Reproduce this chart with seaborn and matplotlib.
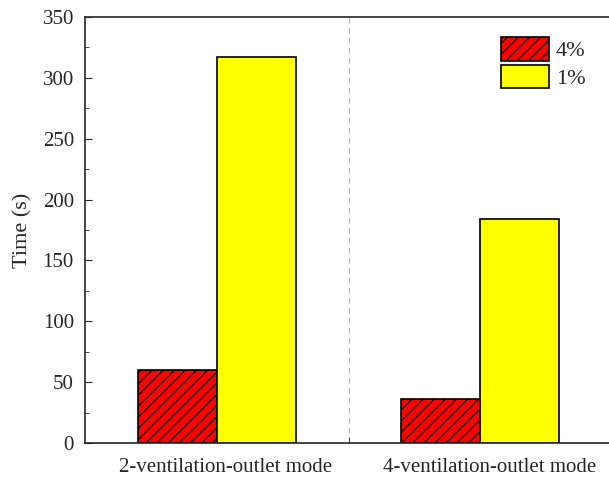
import matplotlib
matplotlib.use("Agg")
import matplotlib.pyplot as plt
import matplotlib.transforms as mtransforms
import seaborn as sns
import pandas as pd
from matplotlib.ticker import MultipleLocator, FixedLocator
from matplotlib.patches import Patch

modes = ["2-ventilation-outlet mode", "4-ventilation-outlet mode"]
series = ["4%", "1%"]
vals_4 = [60, 36]
vals_1 = [317, 184]

df = pd.DataFrame({
    "mode": modes * 2,
    "conc": [series[0]] * 2 + [series[1]] * 2,
    "time": vals_4 + vals_1,
})

sns.set_style("ticks")
plt.rcParams["font.family"] = ["Liberation Serif", "DejaVu Serif"]
plt.rcParams["hatch.linewidth"] = 0.9

fig = plt.figure(figsize=(6.09, 4.78), dpi=100)
ax = fig.add_axes([85 / 609, 35 / 478, (612 - 85) / 609, (443 - 17) / 478])

colors = {"4%": "#ff0000", "1%": "#ffff00"}
sns.barplot(data=df, x="mode", y="time", hue="conc", hue_order=series,
            palette=colors, width=0.6, ax=ax, edgecolor="black",
            linewidth=1.2, legend=False, saturation=1)

for i, p in enumerate(ax.patches):
    if i < 2:
        p.set_hatch("///")

ax.set_xlim(-0.5, 1.5)
ax.set_ylim(0, 350)
ax.axvline(0.5, color="#b0b0b0", linestyle=(0, (5, 4)), linewidth=0.8, zorder=0)

ax.yaxis.set_major_locator(MultipleLocator(50))
ax.yaxis.set_minor_locator(MultipleLocator(25))
ax.tick_params(axis="y", which="both", direction="in", labelsize=15, pad=8)
ax.tick_params(axis="y", which="major", length=5)
ax.tick_params(axis="y", which="minor", length=3)
ax.tick_params(axis="x", which="major", length=0, labelsize=15, pad=11)
ax.xaxis.set_minor_locator(FixedLocator([0.5]))
ax.tick_params(axis="x", which="minor", direction="in", length=4)

offset = mtransforms.ScaledTranslation(9 / 100, 0, fig.dpi_scale_trans)
for lbl in ax.get_xticklabels():
    lbl.set_transform(lbl.get_transform() + offset)

for s in ax.spines.values():
    s.set_linewidth(1.2)
ax.spines["right"].set_visible(False)

ax.set_xlabel("")
ax.set_ylabel("Time (s)", fontsize=16, labelpad=7)

handles = [Patch(facecolor="#ff0000", edgecolor="black", hatch="///", linewidth=1.2),
           Patch(facecolor="#ffff00", edgecolor="black", linewidth=1.2)]
fig.legend(handles, series, loc="upper left", bbox_to_anchor=(501 / 609, 1 - 37 / 478),
           frameon=False, fontsize=16, handlelength=2.16, handleheight=1.25,
           handletextpad=0.3, labelspacing=0.16, borderpad=0, borderaxespad=0)

fig.savefig("out.png", dpi=100)
